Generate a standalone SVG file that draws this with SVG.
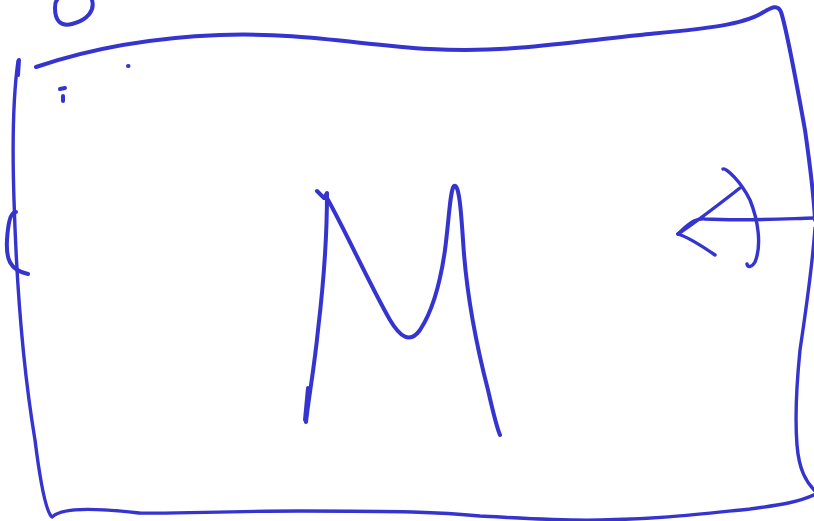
<svg xmlns="http://www.w3.org/2000/svg" width="814" height="521" viewBox="0 0 814 521">
<style>
.s{fill:none;stroke:#3634cf;stroke-width:4;stroke-linecap:round;stroke-linejoin:round}
.t{stroke-width:3.4}
</style>
<rect width="814" height="521" fill="#ffffff"/>
<g id="frame">
<path class="s" d="M36,67 C80,52 140,38 220,35 C300,32 360,45 430,49 C510,53 560,43 640,35 C700,29 740,26 762,13 C772,7 778,4 781,12 C787,30 796,80 805,130 C810,165 814,200 815,220"/>
<path class="s t" d="M815,228 C812,270 806,310 800,350 C796,390 795,420 797,445 C799,470 806,482 816,492"/>
<path class="s t" d="M816,494 C800,502 780,505 750,509 C700,514 660,519 600,520 C560,521 520,518 480,516 C440,512 400,511 300,511 C220,511 180,514 140,513 C110,510 65,505 52,517 C46,512 40,480 35,440 C25,380 17,300 14,200 C12,140 14,90 18,61"/>
<path class="s" d="M19,60 L18,75"/>
</g>
<g id="tab">
<path class="s" d="M16,212 C10,212 8,225 7,240 C6,258 9,270 28,274"/>
</g>
<g id="loop">
<path class="s" d="M92,0 C95,10 88,20 72,24 C60,27 55,20 55,8 C55,4 56,1 57,0"/>
</g>
<g id="marks">
<path class="s" d="M128,66 L128.5,66"/>
<path class="s" d="M60,89 L65,88"/>
<path class="s" d="M63,96 L63,101"/>
</g>
<g id="letter">
<path class="s" d="M317,191 L324,198 L327,193 C327,230 324,280 318,330 C314,370 309,395 306,422"/>
<path class="s" d="M308,388 L305,420"/>
<path class="s" d="M327,198 C345,230 370,285 390,320 C400,337 410,344 420,330 C432,312 440,285 445,250 C449,220 450,190 454,186 C459,183 461,210 463,240 C466,290 475,340 488,390 C493,412 497,428 500,435"/>
</g>
<g id="connectors">
<path class="s t" d="M815,218 C780,219 745,221 705,219 C695,218 688,224 678,234"/>
<path class="s t" d="M678,234 C695,223 718,205 740,188"/>
<path class="s t" d="M678,234 C690,238 702,246 715,255"/>
<path class="s t" d="M723,169 C726,168 740,180 750,200 C758,220 762,245 755,262 C752,267 748,268 747,264"/>
</g>
</svg>
